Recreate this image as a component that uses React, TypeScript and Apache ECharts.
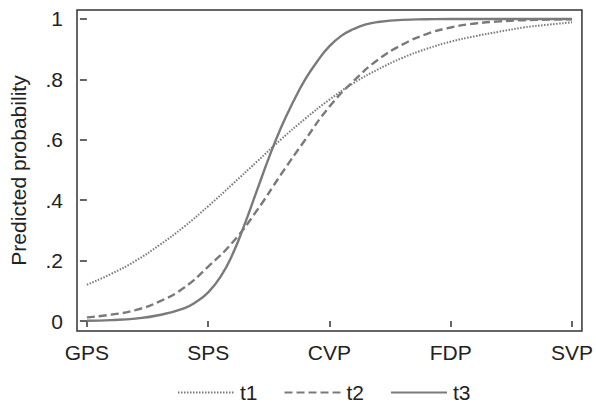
import React, { useEffect, useRef } from "react";
import * as echarts from "echarts";

const categories = ["GPS", "SPS", "CVP", "FDP", "SVP"];
const categoryPositions = [0, 1, 2, 3, 4];
const yTicks = [0, 0.2, 0.4, 0.6, 0.8, 1];

const t1X = [0, 0.2, 0.4, 0.6, 0.8, 1.0, 1.2, 1.4, 1.6, 1.8, 2.0, 2.2, 2.4, 2.6, 2.8, 3.0, 3.2, 3.4, 3.6, 3.8, 4.0];
const t1Y = [0.12, 0.156, 0.199, 0.252, 0.312, 0.38, 0.453, 0.527, 0.601, 0.67, 0.733, 0.788, 0.833, 0.871, 0.901, 0.925, 0.943, 0.958, 0.972, 0.981, 0.989];

const t2X = [0, 0.2, 0.4, 0.6, 0.8, 1.0, 1.2, 1.4, 1.6, 1.8, 2.0, 2.2, 2.4, 2.6, 2.8, 3.0, 3.2, 3.4, 3.6, 3.8, 4.0];
const t2Y = [0.012, 0.021, 0.036, 0.065, 0.11, 0.18, 0.26, 0.365, 0.485, 0.6, 0.71, 0.795, 0.865, 0.915, 0.95, 0.972, 0.985, 0.992, 0.996, 0.998, 0.999];

const t3X = [0, 0.2, 0.4, 0.6, 0.8, 0.9, 1.0, 1.1, 1.2, 1.3, 1.4, 1.5, 1.6, 1.7, 1.8, 1.9, 2.0, 2.1, 2.2, 2.3, 2.4, 2.6, 2.8, 3.0, 3.5, 4.0];
const t3Y = [0.001, 0.003, 0.008, 0.02, 0.042, 0.063, 0.095, 0.145, 0.22, 0.32, 0.43, 0.54, 0.64, 0.725, 0.8, 0.86, 0.91, 0.945, 0.967, 0.982, 0.99, 0.997, 0.999, 1.0, 1.0, 1.0];

const FONT = "Liberation Sans, Arial, Helvetica, sans-serif";
const TEXT = "#222222";
const AXIS = "#333333";
const LINE = "#7a7a7a";
const FS = 21;

function pairs(xs: number[], ys: number[]) {
  return xs.map((x, i) => [x, ys[i]]);
}

export default function App() {
  const ref = useRef<HTMLDivElement>(null);
  useEffect(() => {
    document.body.style.margin = "0";
    if (!ref.current) return;
    const chart = echarts.init(ref.current, undefined, { renderer: "svg" });
    chart.setOption({
      animation: false,
      backgroundColor: "#ffffff",
      textStyle: { fontFamily: FONT },
      grid: {
        left: 76,
        right: 11,
        top: 10,
        bottom: 72,
        show: true,
        borderColor: AXIS,
        borderWidth: 1.5,
        backgroundColor: "transparent",
      },
      legend: {
        left: 177,
        top: 382,
        padding: 0,
        itemWidth: 56,
        itemHeight: 14,
        itemGap: 26,
        itemStyle: { opacity: 0 },
        textStyle: { fontSize: FS, color: TEXT, fontFamily: FONT, padding: [0, 0, 0, 1] },
        data: ["t1", "t2", "t3"],
      },
      xAxis: {
        type: "value",
        min: -0.0818,
        max: 4.0818,
        axisLine: { show: false },
        splitLine: { show: false },
        axisTick: {
          show: true,
          inside: false,
          length: 6,
          customValues: categoryPositions,
          lineStyle: { color: AXIS, width: 1.5 },
        },
        axisLabel: {
          customValues: categoryPositions,
          margin: 11,
          fontSize: FS,
          color: TEXT,
          fontFamily: FONT,
          formatter: (v: number) => categories[Math.round(v)] ?? "",
        },
      },
      yAxis: {
        type: "value",
        min: -0.0331,
        max: 1.0298,
        name: "Predicted probability",
        nameLocation: "middle",
        nameGap: 48,
        nameTextStyle: { fontSize: FS, color: TEXT, fontFamily: FONT },
        axisLine: { show: false },
        splitLine: { show: false },
        axisTick: {
          show: true,
          inside: false,
          length: 7,
          customValues: yTicks,
          lineStyle: { color: AXIS, width: 1.5 },
        },
        axisLabel: {
          customValues: yTicks,
          margin: 14,
          fontSize: FS,
          color: TEXT,
          fontFamily: FONT,
          formatter: (v: number) => {
            if (Math.abs(v) < 1e-9) return "0";
            if (Math.abs(v - 1) < 1e-9) return "1";
            return "." + Math.round(v * 10);
          },
        },
      },
      series: [
        {
          name: "t1",
          type: "line",
          data: pairs(t1X, t1Y),
          smooth: true,
          symbol: "none",
          lineStyle: { color: LINE, width: 2, type: [1.5, 1.5] },
          itemStyle: { color: LINE },
        },
        {
          name: "t2",
          type: "line",
          data: pairs(t2X, t2Y),
          smooth: true,
          symbol: "none",
          lineStyle: { color: LINE, width: 2.4, type: [8, 4] },
          itemStyle: { color: LINE },
        },
        {
          name: "t3",
          type: "line",
          data: pairs(t3X, t3Y),
          smooth: true,
          symbol: "none",
          lineStyle: { color: LINE, width: 2.4, type: "solid" },
          itemStyle: { color: LINE },
        },
      ],
    });
    return () => chart.dispose();
  }, []);
  return (
    <div
      ref={ref}
      style={{ position: "fixed", left: 0, top: 0, width: 596, height: 403 }}
    />
  );
}
